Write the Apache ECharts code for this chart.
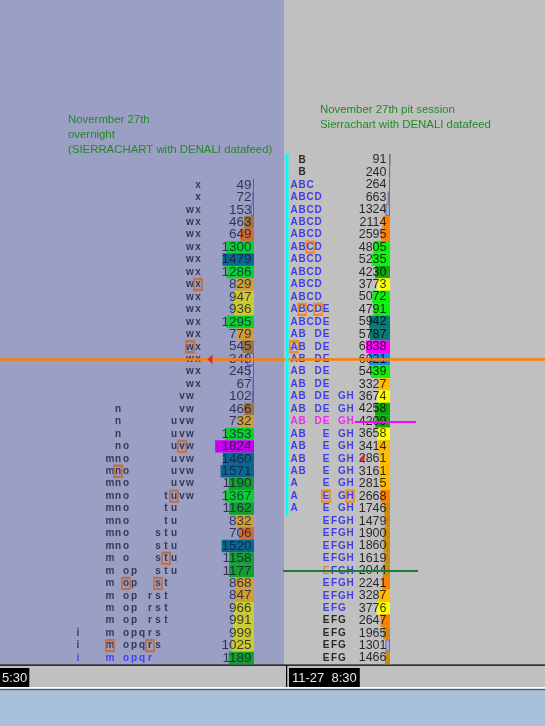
<!DOCTYPE html>
<html><head><meta charset="utf-8">
<script src="https://cdn.jsdelivr.net/npm/echarts@6/dist/echarts.min.js"></script>
<style>html,body{margin:0;padding:0;background:#a8c0da;overflow:hidden}#c{width:545px;height:726px}</style>
</head><body><div id="c"></div>
<script>
// ---------------- DATA ----------------
const leftTitle = ['Novermber 27th', 'overnight', '(SIERRACHART with DENALI datafeed)'];
const rightTitle = ['November 27th pit session', 'Sierrachart with DENALI datafeed'];
const timeLabels = ['5:30', '11-27  8:30'];
const leftLetterCols = ['a','b','c','d','e','f','g','h','i','j','k','l','m','n','o','p','q','r','s','t','u','v','w','x'];
const rightLetterCols = ['A','B','C','D','E','F','G','H'];
const priceRowCount = 41;      // price levels shared by both profiles (top to bottom)
const leftStartRow = 2;        // overnight profile starts two price levels below the pit high
const leftVolume = [49,72,153,463,649,1300,1479,1286,829,947,936,1295,779,545,348,245,67,102,466,732,1353,1824,1460,1571,1190,1367,1162,832,706,1520,1158,1177,868,847,966,991,999,1025,1189];
const leftTPO = ['x','x','wx','wx','wx','wx','wx','wx','wx','wx','wx','wx','wx','wx','wx','wx','wx','vw','nvw','nuvw','nuvw','nouvw','mnouvw','mnouvw','mnouvw','mnotuvw','mnotu','mnotu','mnostu','mnostu','mostu','mopstu','mopst','moprst','moprst','moprst','imopqrs','imopqrs','imopqr'];
const leftBoxed = [[8,'x'],[13,'w'],[21,'v'],[23,'n'],[25,'u'],[30,'t'],[32,'o'],[32,'s'],[37,'m'],[37,'r']];
const rightVolume = [91,240,264,663,1324,2114,2595,4805,5235,4230,3773,5072,4791,5942,5787,6838,6021,5439,3327,3674,4258,4209,3658,3414,2861,3161,2815,2668,1746,1479,1900,1860,1619,2044,2241,3287,3776,2647,1965,1301,1466];
const rightTPO = ['B','B','ABC','ABCD','ABCD','ABCD','ABCD','ABCD','ABCD','ABCD','ABCD','ABCD','ABCDE','ABCDE','ABDE','ABDE','ABDE','ABDE','ABDE','ABDEGH','ABDEGH','ABDEGH','ABEGH','ABEGH','ABEGH','ABEGH','AEGH','AEGH','AEGH','EFGH','EFGH','EFGH','EFGH','EFGH','EFGH','EFGH','EFG','EFG','EFG','EFG','EFG'];
const rightBoxed = [[7,'C'],[12,'B'],[12,'D'],[15,'A'],[27,'E'],[27,'H']];
const lastPriceRow = 16;       // orange price line
const pocRow = 21;             // magenta line
const greenLineRow = 33;
const ibRows = [0, 28];        // cyan initial-balance range (rows)
const redMarks = [[210, 16], [362, 24]];

// ---------------- STYLE ----------------
const TOP = 153.8, H = 510.45;
const bucketEdges = [0.2,0.3,0.4,0.5,0.6,0.7,0.8,0.875,1];
const leftPalette = [null,'#9e7442','#d06e30','#d0a034','#cccc30','#14a030','#0ad032','#0a6890','#1a70d0','#c800f0'];
const rightPalette = [null,'#c88c14','#ff8000','#ffbc00','#ffff00','#10a810','#10f010','#087a78','#1e8ce8','#ff00ff'];
const leftOutline = {color:'#a4a8d8', borderColor:'#5a5ea0', borderWidth:1};
const rightOutline = {color:'#aaaad2', borderColor:'#6c6c90', borderWidth:1};
function bucket(f){ let k=0; while(k<bucketEdges.length && f>=bucketEdges[k]) k++; return k; }
const rows = Array.from({length: priceRowCount}, (_, i) => i);

function barItems(vol, start, palette, outline){
  const mx = Math.max(...vol);
  return rows.map(r => {
    const i = r - start;
    if (i < 0 || i >= vol.length) return null;
    const b = bucket(vol[i] / mx);
    return {value: vol[i], itemStyle: b === 0 ? outline : {color: palette[b], borderWidth: 0}};
  });
}
function numberItems(vol, start){ return vol.map((v, i) => [0, start + i, v]); }
function letterItems(tpo, cols, start, colorFn){
  const out = [];
  tpo.forEach((s, i) => { for (const ch of s) out.push({value:[cols.indexOf(ch), start + i, ch], label:{color: colorFn(start + i, ch)}}); });
  return out;
}
function boxItems(boxes, cols, start){ return boxes.map(([i, ch]) => [cols.indexOf(ch), start + i]); }

const leftLetterColor = (r) => r === priceRowCount - 1 ? '#2828ff' : '#1c1c3a';
const rightLetterColor = (r, ch) => {
  if (r <= 1 || r >= 37) return '#000000';
  if (r === pocRow) return '#ff00ff';
  if (r === greenLineRow && ch === 'E') return '#e07020';
  return '#1c1cf0';
};

const letterFont = {fontFamily:'Liberation Sans', fontWeight:'bold', fontSize:10};
const hidden = {show:false};
function catY(g){ return {type:'category', gridIndex:g, data:rows, inverse:true, show:false}; }
const titleStyle = {color:'#1f8b24', fontSize:11.4, fontWeight:'normal', fontFamily:'Liberation Sans', lineHeight:15};

const chart = echarts.init(document.getElementById('c'));
chart.setOption({
  animation:false,
  title:[
    {text:leftTitle.join('\n'), left:63, top:107, padding:5, textStyle:titleStyle},
    {text:rightTitle.join('\n'), left:315, top:97.5, padding:5, textStyle:titleStyle}
  ],
  grid:[
    {left:10, top:TOP, width:192, height:H},            // 0 left letters
    {left:214, top:TOP, width:40, height:H},            // 1 left bars
    {left:290, top:TOP, width:64, height:H},            // 2 right letters
    {left:360, top:TOP, width:30, height:H},            // 3 right bars
    {left:0, top:TOP, width:545, height:H},             // 4 annotations
    {left:0, top:0, width:284, height:665, show:true, backgroundColor:'#9b9fc3', borderWidth:0},
    {left:284, top:0, width:261, height:665, show:true, backgroundColor:'#c0c0c0', borderWidth:0}
  ],
  xAxis:[
    {type:'category', gridIndex:0, data:leftLetterCols, show:false},
    {type:'value', gridIndex:1, min:0, max:1878, inverse:true, show:false, splitLine:hidden},
    {type:'category', gridIndex:2, data:rightLetterCols, show:false},
    {type:'value', gridIndex:3, min:0, max:8570, inverse:true, show:false, splitLine:hidden},
    {type:'value', gridIndex:4, min:0, max:545, show:false, splitLine:hidden},
    {type:'value', gridIndex:5, show:false, splitLine:hidden},
    {type:'value', gridIndex:6, show:false, splitLine:hidden}
  ],
  yAxis:[catY(0), catY(1), catY(2), catY(3), catY(4),
    {type:'value', gridIndex:5, show:false, splitLine:hidden},
    {type:'value', gridIndex:6, show:false, splitLine:hidden}],
  graphic:[
    {type:'rect', shape:{x:0, y:665, width:545, height:22}, style:{fill:'#c0c0c0'}, z:1},
    {type:'rect', shape:{x:0, y:664.5, width:545, height:1.2}, style:{fill:'#000'}, z:1},
    {type:'rect', shape:{x:286, y:665, width:1.2, height:22}, style:{fill:'#000'}, z:1},
    {type:'rect', shape:{x:0, y:687, width:545, height:1.5}, style:{fill:'#ffffff'}, z:1},
    {type:'rect', shape:{x:0, y:689, width:545, height:1.5}, style:{fill:'#5a5a5a'}, z:1},
    {type:'rect', shape:{x:0, y:690.5, width:545, height:36}, style:{fill:'#a8c0da'}, z:1},
    {type:'text', x:0, y:668, z:5, style:{text:timeLabels[0], fill:'#e8e8e8', font:'13px "Liberation Sans"', backgroundColor:'#000', padding:[3,2,2,2], lineHeight:14}},
    {type:'text', x:289, y:668, z:5, style:{text:timeLabels[1], fill:'#e8e8e8', font:'13px "Liberation Sans"', backgroundColor:'#000', padding:[3,3,2,3], lineHeight:14}}
  ],
  series:[
    {type:'bar', xAxisIndex:1, yAxisIndex:1, barCategoryGap:'0%', data:barItems(leftVolume, leftStartRow, leftPalette, leftOutline), silent:true, z:2},
    {type:'scatter', xAxisIndex:1, yAxisIndex:1, symbolSize:1, clip:false, itemStyle:{color:'rgba(0,0,0,0)'}, silent:true, z:3,
      label:{show:true, position:'left', distance:2, formatter:p=>p.value[2], color:'#16163a', fontSize:13.5, fontFamily:'Liberation Sans'},
      data:numberItems(leftVolume, leftStartRow)},
    {type:'scatter', xAxisIndex:0, yAxisIndex:0, symbolSize:1, clip:false, itemStyle:{color:'rgba(0,0,0,0)'}, silent:true, z:3,
      label:Object.assign({show:true, position:'inside', formatter:p=>p.value[2]}, letterFont),
      data:letterItems(leftTPO, leftLetterCols, leftStartRow, leftLetterColor)},
    {type:'scatter', xAxisIndex:0, yAxisIndex:0, symbol:'rect', symbolSize:[8,11], clip:false, silent:true, z:4,
      itemStyle:{color:'rgba(0,0,0,0)', borderColor:'#c86428', borderWidth:2},
      data:boxItems(leftBoxed, leftLetterCols, leftStartRow)},
    {type:'bar', xAxisIndex:3, yAxisIndex:3, barCategoryGap:'0%', data:barItems(rightVolume, 0, rightPalette, rightOutline), silent:true, z:2},
    {type:'scatter', xAxisIndex:3, yAxisIndex:3, symbolSize:1, clip:false, itemStyle:{color:'rgba(0,0,0,0)'}, silent:true, z:3,
      label:{show:true, position:'left', distance:3, formatter:p=>p.value[2], color:'#000', fontSize:12.5, fontFamily:'Liberation Sans'},
      data:numberItems(rightVolume, 0)},
    {type:'scatter', xAxisIndex:2, yAxisIndex:2, symbolSize:1, clip:false, itemStyle:{color:'rgba(0,0,0,0)'}, silent:true, z:3,
      label:Object.assign({show:true, position:'inside', formatter:p=>p.value[2]}, letterFont),
      data:letterItems(rightTPO, rightLetterCols, 0, rightLetterColor)},
    {type:'scatter', xAxisIndex:2, yAxisIndex:2, symbol:'rect', symbolSize:[8,11], clip:false, silent:true, z:4,
      itemStyle:{color:'rgba(0,0,0,0)', borderColor:'#ff7a00', borderWidth:2},
      data:boxItems(rightBoxed, rightLetterCols, 0)},
    {type:'custom', xAxisIndex:4, yAxisIndex:4, silent:true, z:6, clip:false,
      renderItem:(params, api) => {
        const band = api.size([0, 1])[1];
        const p0 = api.coord([api.value(0), api.value(1)]);
        const p1 = api.coord([api.value(0), api.value(2)]);
        return {type:'rect', shape:{x:p0[0]-1.5, y:p0[1]-band/2, width:3, height:p1[1]-p0[1]+band}, style:{fill:'#00ffff'}};
      },
      data:[[287, ibRows[0], ibRows[1]]]},
    {type:'scatter', xAxisIndex:4, yAxisIndex:4, symbol:'triangle', symbolSize:[10,5], symbolRotate:90, clip:false, silent:true, z:7,
      itemStyle:{color:'#d81030'}, data:redMarks,
      markLine:{silent:true, symbol:'none', label:{show:false}, animation:false,
        data:[
          {yAxis:lastPriceRow, lineStyle:{color:'#ff7f00', width:2.7, type:'solid'}},
          [{coord:[355, pocRow], lineStyle:{color:'#ff00ff', width:2, type:'solid'}}, {coord:[416, pocRow]}],
          [{coord:[283, greenLineRow], lineStyle:{color:'#1a7a3a', width:2, type:'solid'}}, {coord:[418, greenLineRow]}]
        ]}}
  ]
});
</script>
</body></html>
